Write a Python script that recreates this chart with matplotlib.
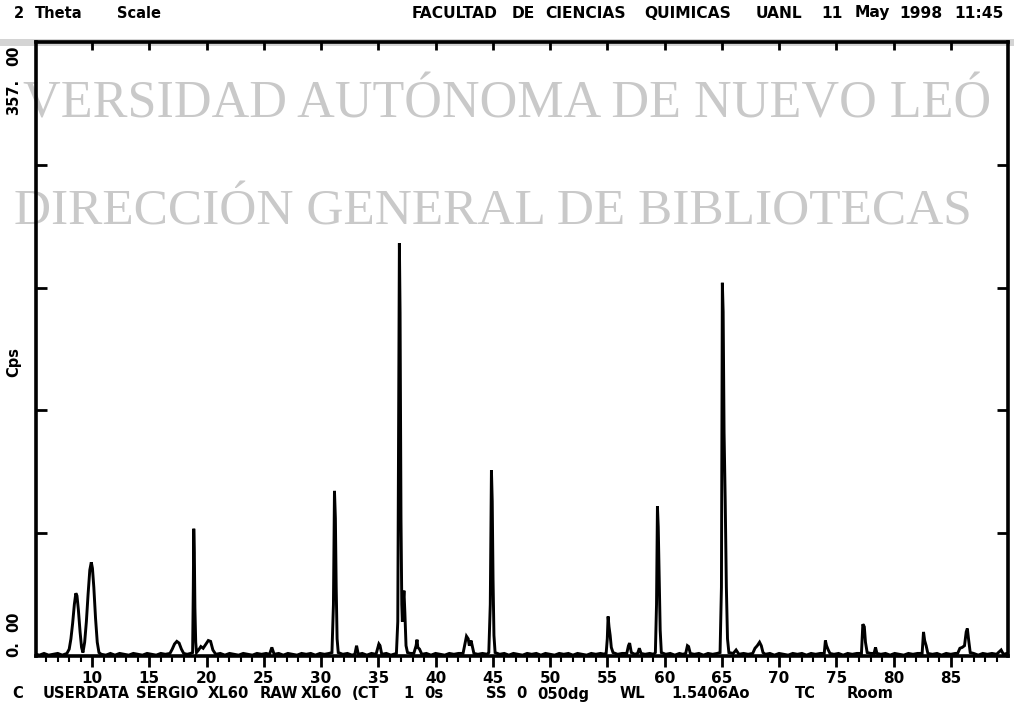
import matplotlib
matplotlib.use('Agg')
import matplotlib.pyplot as plt
from matplotlib.patches import Rectangle

# diffractogram: 2 theta (deg) and counts per second
two_theta = [
    5.10, 5.40, 5.80, 6.20, 6.60, 7.00, 7.40, 7.80, 8.00, 8.15, 8.30, 8.45,
    8.58, 8.68, 8.80, 8.95, 9.08, 9.20, 9.35, 9.50, 9.65, 9.80, 9.93, 10.03,
    10.15, 10.30, 10.45, 10.60, 10.80, 11.20, 11.60, 12.00, 12.40, 12.80,
    13.20, 13.60, 14.00, 14.40, 14.80, 15.20, 15.60, 16.00, 16.40, 16.80,
    17.00, 17.20, 17.40, 17.60, 17.80, 18.00, 18.30, 18.60, 18.78, 18.84,
    18.88, 18.93, 18.98, 19.05, 19.12, 19.30, 19.50, 19.70, 19.90, 20.15,
    20.35, 20.55, 20.80, 21.20, 21.60, 22.00, 22.40, 22.80, 23.20, 23.60,
    24.00, 24.40, 24.80, 25.20, 25.50, 25.70, 25.90, 26.30, 26.70, 27.10,
    27.50, 27.90, 28.30, 28.70, 29.10, 29.50, 29.90, 30.30, 30.70, 30.95,
    31.08, 31.17, 31.25, 31.32, 31.40, 31.50, 31.90, 32.30, 32.70, 32.95,
    33.10, 33.25, 33.60, 34.00, 34.40, 34.80, 35.05, 35.15, 35.30, 35.70,
    36.10, 36.58, 36.70, 36.78, 36.84, 36.90, 36.98, 37.05, 37.10, 37.16,
    37.24, 37.32, 37.42, 37.55, 37.80, 38.10, 38.30, 38.38, 38.45, 38.60,
    38.80, 39.20, 39.60, 40.00, 40.40, 40.80, 41.20, 41.60, 42.00, 42.40,
    42.60, 42.70, 42.85, 42.95, 43.10, 43.20, 43.35, 43.70, 44.10, 44.50,
    44.65, 44.78, 44.88, 44.95, 45.02, 45.10, 45.20, 45.60, 46.00, 46.40,
    46.80, 47.20, 47.60, 48.00, 48.40, 48.80, 49.20, 49.60, 50.00, 50.40,
    50.80, 51.20, 51.60, 52.00, 52.40, 52.80, 53.20, 53.60, 54.00, 54.40,
    54.80, 54.90, 55.00, 55.07, 55.15, 55.25, 55.35, 55.50, 55.90, 56.30,
    56.70, 56.85, 56.95, 57.10, 57.40, 57.65, 57.80, 57.95, 58.30, 58.70,
    59.05, 59.20, 59.30, 59.38, 59.45, 59.52, 59.62, 59.72, 60.10, 60.50,
    60.90, 61.30, 61.60, 61.85, 62.00, 62.10, 62.25, 62.60, 63.00, 63.40,
    63.80, 64.20, 64.60, 64.85, 64.97, 65.05, 65.12, 65.20, 65.30, 65.40,
    65.50, 65.62, 66.00, 66.25, 66.50, 66.90, 67.30, 67.70, 67.90, 68.10,
    68.30, 68.45, 68.60, 68.80, 69.20, 69.60, 70.00, 70.40, 70.80, 71.20,
    71.60, 72.00, 72.40, 72.80, 73.20, 73.60, 73.95, 74.05, 74.15, 74.30,
    74.45, 74.80, 75.20, 75.60, 76.00, 76.40, 76.80, 77.20, 77.32, 77.45,
    77.55, 77.70, 78.00, 78.30, 78.43, 78.55, 78.90, 79.30, 79.70, 80.10,
    80.50, 80.90, 81.30, 81.70, 82.10, 82.50, 82.62, 82.72, 82.85, 83.00,
    83.40, 83.80, 84.20, 84.60, 85.00, 85.40, 85.60, 85.80, 86.00, 86.20,
    86.35, 86.45, 86.55, 86.70, 87.00, 87.40, 87.80, 88.20, 88.60, 89.00,
    89.40, 89.60, 89.90,
]
cps = [
    1.0, 0.5, 1.5, 0.5, 1.0, 1.5, 0.5, 1.5, 4, 10, 19, 30,
    36.5, 35, 27, 14, 5, 2, 8, 20, 36, 50, 54.5, 51,
    40, 22, 8, 2, 1, 0.5, 1.5, 0.5, 1.5, 1,
    0.5, 1.5, 1, 0.5, 1.5, 1, 0.5, 1.5, 1, 1.5,
    4, 7, 8.5, 7.5, 4, 1.5, 1, 1.5, 2, 40,
    74, 60, 28, 8, 2, 3.5, 5.5, 4.5, 6.5, 9,
    8.5, 3.5, 1, 1.5, 0.5, 1.5, 1, 0.5, 1.5, 1,
    0.5, 1.5, 1, 1.5, 1, 5, 1, 1.5, 0.5, 1.5,
    1, 0.5, 1.5, 1, 1.5, 0.5, 1.5, 1, 1.5, 2,
    30, 96, 80, 40, 10, 2, 1, 1.5, 0.5, 1,
    6, 1, 1.5, 0.5, 1.5, 1, 7, 6, 1, 1.5,
    0.5, 1.5, 20, 150, 240, 200, 80, 30, 20, 30,
    38, 25, 6, 2, 1.5, 1.5, 6, 9.5, 5, 4,
    1, 1.5, 0.5, 1.5, 1, 0.5, 1.5, 1, 1.5, 1.5,
    8, 11.5, 10, 6, 9, 6, 1.5, 1, 1.5, 1,
    2, 30, 108, 90, 45, 12, 2, 1, 1.5, 0.5,
    1.5, 1, 0.5, 1.5, 1, 1.5, 0.5, 1.5, 1, 0.5,
    1.5, 1, 1.5, 0.5, 1.5, 1, 0.5, 1.5, 1, 1.5,
    1, 1.5, 10, 23, 17, 12, 5, 2, 1, 1.5,
    1.5, 6, 7.5, 2, 1, 1.5, 4.5, 1.5, 1, 1.5,
    1, 2, 30, 87, 75, 50, 15, 2, 1, 1.5,
    0.5, 1.5, 1, 1.5, 6, 5.5, 1.5, 1, 1.5, 0.5,
    1.5, 1, 1.5, 2, 40, 217, 200, 130, 90, 40,
    10, 2, 1.5, 3.5, 1, 1.5, 1, 1.5, 4.5, 6,
    8, 6, 2, 1, 1.5, 0.5, 1.5, 1, 0.5, 1.5,
    1, 1.5, 0.5, 1.5, 1, 1.5, 1.5, 9, 6, 3.5,
    1.5, 1, 1.5, 0.5, 1.5, 1, 1.5, 1.5, 18.5, 17,
    8, 2, 1.5, 1.5, 5, 1.5, 1, 1.5, 0.5, 1.5,
    1, 0.5, 1.5, 1, 1.5, 1.5, 14, 9, 6, 1.5,
    1, 1.5, 0.5, 1.5, 1, 1.5, 1.5, 4.5, 5, 6,
    14, 16, 10, 2, 1.5, 0.5, 1.5, 1, 1.5, 1,
    3.5, 1, 1.5,
]

x_min, x_max = 5.1, 90.0
y_max = 357.0
major_x = list(range(10, 90, 5))
minor_x = list(range(6, 90, 1))
y_ticks = [y_max * k / 5 for k in range(1, 5)]

header_left = '2 Theta   Scale'
header_right = 'FACULTAD DE CIENCIAS QUIMICAS  UANL  11 May 1998 11:45'
footer = 'C  USERDATA SERGIO XL60 RAW XL60 (CT  1 0s    SS 0 050dg   WL   1.5406Ao    TC   Room'
watermark_1 = 'VERSIDAD AUTÓNOMA DE NUEVO LEÓ'
watermark_2 = 'DIRECCIÓN GENERAL DE BIBLIOTECAS'

W, H = 1014, 709
fig = plt.figure(figsize=(W / 100, H / 100), dpi=100)
fig.patch.set_facecolor('white')

# library watermark of the scanned thesis page
wm = '#c9c9c9'
fig.patches.append(Rectangle((0, 1 - 46 / H), 1, 7 / H, transform=fig.transFigure,
                             facecolor='#d4d4d4', edgecolor='none', zorder=0.4))
fig.text(23 / W, 1 - 118 / H, watermark_1, family='Liberation Serif',
         fontsize=37.5, color=wm, ha='left', va='baseline', zorder=0.5)
fig.text(14 / W, 1 - 225 / H, watermark_2, family='Liberation Serif',
         fontsize=37, color=wm, ha='left', va='baseline', zorder=0.5)

ax = fig.add_axes([36 / W, 53 / H, 972 / W, 614 / H], zorder=1)
ax.patch.set_visible(False)
ax.plot(two_theta, cps, color='black', lw=2.1, solid_joinstyle='miter')
ax.set_xlim(x_min, x_max)
ax.set_ylim(0, y_max)

for s in ax.spines.values():
    s.set_linewidth(2.6)

ax.set_xticks(major_x)
ax.set_xticks(minor_x, minor=True)
ax.set_xticklabels([str(v) for v in major_x], family='DejaVu Sans', fontsize=11,
                   fontweight='bold')
ax.tick_params(axis='x', which='major', direction='out', length=8, width=2, pad=3)
ax.tick_params(axis='x', which='minor', direction='out', length=4, width=1.5)
ax.set_yticks(y_ticks)
ax.set_yticklabels([])
ax.tick_params(axis='y', which='major', direction='in', length=8, width=2,
               left=True, right=True)

top = ax.secondary_xaxis('top')
top.set_xticks(major_x)
top.set_xticklabels([])
top.tick_params(direction='in', length=6, width=2)

txt = dict(family='DejaVu Sans', fontweight='bold', color='black')


def plotter_text(x0, y, s, cell, size):
    """put each word on a fixed character grid, like the plotter did"""
    i = 0
    for word in s.split(' '):
        if word:
            fig.text((x0 + i * cell) / W, 1 - y / H, word, ha='left', va='center',
                     fontsize=size, **txt)
        i += len(word) + 1


plotter_text(14, 13, header_left, 10.3, 10.5)
plotter_text(412, 13, header_right, 11.07, 11.2)
plotter_text(12, 694, footer, 10.3, 10.6)

# y axis labels, written upwards
fig.text(14 / W, 1 - 115 / H, '357.', rotation=90, ha='center', va='bottom', fontsize=10.5, **txt)
fig.text(14 / W, 1 - 45 / H, '00', rotation=90, ha='center', va='top', fontsize=10.5, **txt)
fig.text(14 / W, 1 - 362 / H, 'Cps', rotation=90, ha='center', va='center', fontsize=10.5, **txt)
fig.text(14 / W, 1 - 657 / H, '0.', rotation=90, ha='center', va='bottom', fontsize=10.5, **txt)
fig.text(14 / W, 1 - 612 / H, '00', rotation=90, ha='center', va='top', fontsize=10.5, **txt)

fig.savefig('out.png', dpi=100)
